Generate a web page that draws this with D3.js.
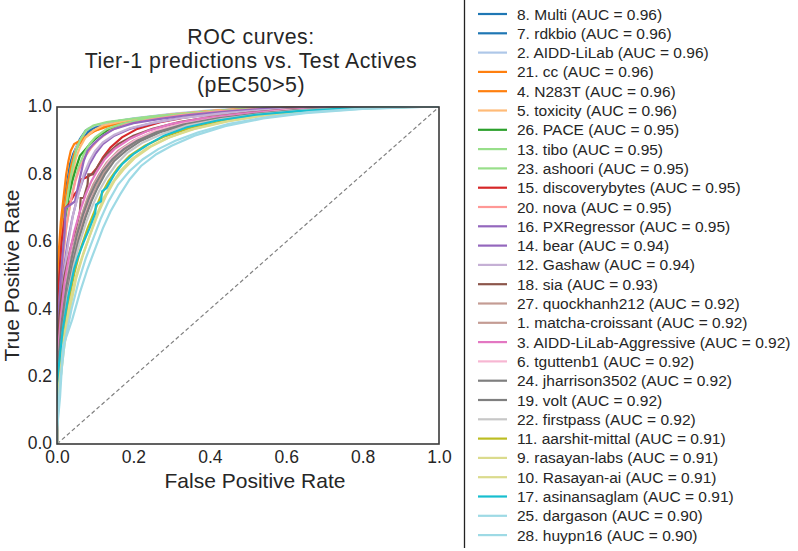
<!DOCTYPE html>
<html>
<head>
<meta charset="utf-8">
<script src="https://cdn.jsdelivr.net/npm/d3@7"></script>
<style>
  body { margin: 0; background: #fff; }
  text { font-family: "Liberation Sans", Arial, Helvetica, sans-serif; fill: #262626; }
</style>
</head>
<body>
<div id="chart"></div>
<script>
// team labels, in legend (and drawing) order
var labels = ["8. Multi", "7. rdkbio", "2. AIDD-LiLab", "21. cc", "4. N283T", "5. toxicity",
    "26. PACE", "13. tibo", "23. ashoori", "15. discoverybytes", "20. nova", "16. PXRegressor",
    "14. bear", "12. Gashaw", "18. sia", "27. quockhanh212", "1. matcha-croissant",
    "3. AIDD-LiLab-Aggressive", "6. tguttenb1", "24. jharrison3502", "19. volt", "22. firstpass",
    "11. aarshit-mittal", "9. rasayan-labs", "10. Rasayan-ai", "17. asinansaglam",
    "25. dargason", "28. huypn16"];

var aucs = [0.96, 0.96, 0.96, 0.96, 0.96, 0.96, 0.95, 0.95, 0.95, 0.95, 0.95, 0.95, 0.94, 0.94,
    0.93, 0.92, 0.92, 0.92, 0.92, 0.92, 0.92, 0.92, 0.91, 0.91, 0.91, 0.91, 0.90, 0.90];

// ROC points [fpr, tpr]
var curves = [
  [[0,0],[0,0.30],[0.004,0.45],[0.008,0.58],[0.012,0.66],[0.02,0.72],[0.028,0.78],[0.034,0.83],[0.042,0.86],[0.05,0.88],[0.06,0.905],[0.075,0.93],[0.1,0.945],[0.14,0.955],[0.2,0.965],[0.3,0.978],[0.4,0.988],[0.5,0.993],[0.6,0.997],[0.7,1],[1,1]],
  [[0,0],[0,0.25],[0.005,0.5],[0.01,0.62],[0.016,0.7],[0.024,0.76],[0.032,0.81],[0.04,0.85],[0.05,0.875],[0.062,0.9],[0.08,0.925],[0.1,0.94],[0.15,0.955],[0.2,0.963],[0.3,0.977],[0.4,0.987],[0.55,0.995],[0.65,1],[1,1]],
  [[0,0],[0,0.2],[0.006,0.45],[0.012,0.6],[0.02,0.7],[0.03,0.78],[0.04,0.84],[0.05,0.88],[0.065,0.91],[0.08,0.935],[0.1,0.945],[0.15,0.957],[0.2,0.966],[0.3,0.98],[0.4,0.99],[0.5,0.996],[0.62,1],[1,1]],
  [[0,0],[0,0.4],[0.004,0.56],[0.01,0.66],[0.018,0.74],[0.024,0.8],[0.03,0.84],[0.036,0.87],[0.045,0.89],[0.06,0.9],[0.08,0.915],[0.1,0.93],[0.14,0.945],[0.2,0.96],[0.3,0.975],[0.4,0.987],[0.5,0.994],[0.6,0.998],[0.7,1],[1,1]],
  [[0,0],[0,0.35],[0.005,0.55],[0.012,0.63],[0.02,0.7],[0.028,0.77],[0.036,0.82],[0.045,0.86],[0.055,0.885],[0.07,0.905],[0.09,0.925],[0.12,0.94],[0.16,0.953],[0.22,0.965],[0.3,0.977],[0.4,0.988],[0.5,0.995],[0.65,1],[1,1]],
  [[0,0],[0,0.3],[0.006,0.5],[0.012,0.6],[0.02,0.68],[0.03,0.75],[0.04,0.8],[0.05,0.85],[0.06,0.88],[0.075,0.91],[0.095,0.93],[0.12,0.945],[0.17,0.957],[0.22,0.967],[0.3,0.978],[0.4,0.988],[0.5,0.995],[0.6,1],[1,1]],
  [[0,0],[0,0.3],[0.006,0.48],[0.012,0.58],[0.02,0.66],[0.03,0.73],[0.04,0.78],[0.05,0.82],[0.06,0.855],[0.075,0.875],[0.09,0.895],[0.11,0.915],[0.14,0.935],[0.18,0.95],[0.25,0.965],[0.35,0.98],[0.45,0.99],[0.55,0.996],[0.7,1],[1,1]],
  [[0,0],[0,0.25],[0.006,0.45],[0.012,0.57],[0.02,0.67],[0.03,0.75],[0.04,0.82],[0.05,0.87],[0.06,0.9],[0.075,0.93],[0.095,0.945],[0.13,0.955],[0.18,0.963],[0.25,0.972],[0.35,0.982],[0.45,0.99],[0.55,0.996],[0.7,1],[1,1]],
  [[0,0],[0,0.2],[0.008,0.42],[0.015,0.55],[0.024,0.64],[0.034,0.71],[0.045,0.77],[0.056,0.82],[0.07,0.86],[0.085,0.89],[0.1,0.91],[0.13,0.935],[0.17,0.95],[0.22,0.963],[0.3,0.975],[0.4,0.986],[0.5,0.993],[0.6,0.998],[0.72,1],[1,1]],
  [[0,0],[0,0.35],[0.006,0.5],[0.012,0.6],[0.02,0.67],[0.022,0.7],[0.03,0.71],[0.045,0.74],[0.06,0.76],[0.062,0.785],[0.075,0.79],[0.09,0.8],[0.105,0.82],[0.12,0.85],[0.14,0.88],[0.17,0.91],[0.21,0.935],[0.27,0.955],[0.35,0.972],[0.45,0.986],[0.55,0.995],[0.65,1],[1,1]],
  [[0,0],[0,0.28],[0.008,0.45],[0.016,0.56],[0.025,0.65],[0.036,0.72],[0.048,0.78],[0.06,0.82],[0.075,0.855],[0.09,0.88],[0.11,0.905],[0.14,0.93],[0.18,0.948],[0.24,0.962],[0.32,0.975],[0.42,0.987],[0.52,0.994],[0.65,1],[1,1]],
  [[0,0],[0,0.3],[0.01,0.5],[0.02,0.63],[0.022,0.7],[0.035,0.71],[0.047,0.72],[0.06,0.79],[0.07,0.84],[0.08,0.87],[0.095,0.89],[0.12,0.915],[0.15,0.935],[0.2,0.952],[0.27,0.965],[0.35,0.977],[0.45,0.987],[0.55,0.995],[0.7,1],[1,1]],
  [[0,0],[0,0.22],[0.01,0.42],[0.018,0.52],[0.028,0.6],[0.04,0.67],[0.055,0.74],[0.07,0.79],[0.085,0.83],[0.1,0.86],[0.12,0.89],[0.15,0.915],[0.19,0.935],[0.25,0.952],[0.32,0.967],[0.42,0.98],[0.52,0.99],[0.62,0.997],[0.75,1],[1,1]],
  [[0,0],[0,0.2],[0.01,0.4],[0.02,0.52],[0.03,0.6],[0.042,0.68],[0.056,0.74],[0.07,0.8],[0.085,0.84],[0.1,0.87],[0.12,0.895],[0.15,0.918],[0.19,0.937],[0.25,0.953],[0.33,0.968],[0.43,0.981],[0.53,0.99],[0.65,0.997],[0.78,1],[1,1]],
  [[0,0],[0,0.3],[0.01,0.42],[0.02,0.5],[0.035,0.58],[0.05,0.64],[0.06,0.69],[0.062,0.73],[0.07,0.73],[0.08,0.77],[0.082,0.8],[0.095,0.8],[0.11,0.83],[0.13,0.86],[0.16,0.89],[0.2,0.915],[0.25,0.935],[0.32,0.955],[0.4,0.97],[0.5,0.983],[0.6,0.992],[0.75,1],[1,1]],
  [[0,0],[0,0.18],[0.012,0.36],[0.024,0.47],[0.036,0.55],[0.05,0.62],[0.065,0.68],[0.08,0.73],[0.095,0.77],[0.11,0.8],[0.13,0.835],[0.16,0.87],[0.2,0.9],[0.25,0.925],[0.32,0.948],[0.4,0.965],[0.5,0.98],[0.6,0.99],[0.72,0.997],[0.85,1],[1,1]],
  [[0,0],[0,0.15],[0.014,0.34],[0.026,0.45],[0.04,0.54],[0.055,0.61],[0.07,0.67],[0.085,0.72],[0.1,0.76],[0.12,0.8],[0.14,0.835],[0.17,0.87],[0.21,0.9],[0.26,0.925],[0.33,0.948],[0.42,0.966],[0.52,0.98],[0.62,0.99],[0.75,0.997],[0.88,1],[1,1]],
  [[0,0],[0,0.22],[0.01,0.38],[0.02,0.48],[0.032,0.56],[0.045,0.63],[0.06,0.69],[0.075,0.74],[0.09,0.78],[0.105,0.81],[0.125,0.845],[0.15,0.875],[0.19,0.905],[0.24,0.93],[0.3,0.95],[0.38,0.966],[0.48,0.98],[0.58,0.99],[0.7,0.997],[0.83,1],[1,1]],
  [[0,0],[0,0.2],[0.012,0.36],[0.024,0.46],[0.036,0.54],[0.05,0.61],[0.066,0.67],[0.082,0.72],[0.1,0.77],[0.118,0.81],[0.14,0.845],[0.17,0.875],[0.21,0.905],[0.26,0.93],[0.33,0.95],[0.42,0.967],[0.52,0.98],[0.6,0.99],[0.7,0.993],[0.8,1],[1,1]],
  [[0,0],[0,0.2],[0.012,0.36],[0.025,0.47],[0.038,0.55],[0.052,0.62],[0.068,0.68],[0.084,0.73],[0.1,0.77],[0.12,0.81],[0.145,0.845],[0.175,0.875],[0.21,0.9],[0.26,0.925],[0.33,0.948],[0.42,0.966],[0.52,0.98],[0.62,0.99],[0.75,0.997],[0.88,1],[1,1]],
  [[0,0],[0,0.16],[0.014,0.33],[0.028,0.45],[0.042,0.54],[0.058,0.61],[0.074,0.67],[0.09,0.72],[0.106,0.76],[0.125,0.8],[0.15,0.84],[0.18,0.87],[0.22,0.9],[0.27,0.925],[0.34,0.947],[0.43,0.965],[0.53,0.98],[0.63,0.99],[0.76,0.997],[0.9,1],[1,1]],
  [[0,0],[0,0.15],[0.014,0.32],[0.028,0.44],[0.044,0.53],[0.06,0.6],[0.077,0.66],[0.094,0.71],[0.11,0.75],[0.13,0.79],[0.155,0.83],[0.185,0.865],[0.225,0.895],[0.275,0.92],[0.34,0.945],[0.43,0.964],[0.53,0.979],[0.64,0.99],[0.77,0.997],[0.9,1],[1,1]],
  [[0,0],[0,0.12],[0.016,0.3],[0.03,0.42],[0.046,0.51],[0.062,0.58],[0.08,0.64],[0.098,0.69],[0.116,0.74],[0.135,0.78],[0.16,0.82],[0.19,0.855],[0.23,0.885],[0.28,0.912],[0.35,0.938],[0.44,0.96],[0.54,0.976],[0.65,0.988],[0.78,0.996],[0.92,1],[1,1]],
  [[0,0],[0,0.1],[0.018,0.28],[0.034,0.4],[0.05,0.49],[0.068,0.56],[0.086,0.62],[0.104,0.68],[0.122,0.73],[0.142,0.77],[0.166,0.81],[0.195,0.845],[0.235,0.878],[0.285,0.906],[0.35,0.933],[0.44,0.957],[0.54,0.975],[0.65,0.988],[0.78,0.996],[0.92,1],[1,1]],
  [[0,0],[0,0.12],[0.016,0.3],[0.032,0.41],[0.05,0.5],[0.07,0.57],[0.09,0.63],[0.11,0.69],[0.13,0.74],[0.15,0.78],[0.175,0.815],[0.205,0.85],[0.245,0.882],[0.295,0.91],[0.36,0.935],[0.45,0.958],[0.55,0.976],[0.66,0.988],[0.8,0.996],[0.93,1],[1,1]],
  [[0,0],[0,0.18],[0.015,0.34],[0.03,0.44],[0.045,0.52],[0.055,0.555],[0.07,0.6],[0.085,0.64],[0.1,0.685],[0.102,0.71],[0.115,0.72],[0.118,0.75],[0.13,0.76],[0.15,0.8],[0.17,0.83],[0.2,0.86],[0.24,0.89],[0.28,0.915],[0.34,0.94],[0.42,0.96],[0.52,0.977],[0.63,0.988],[0.76,0.996],[0.9,1],[1,1]],
  [[0,0],[0,0.05],[0.008,0.18],[0.02,0.3],[0.038,0.4],[0.056,0.48],[0.075,0.55],[0.095,0.61],[0.115,0.67],[0.135,0.72],[0.16,0.77],[0.19,0.81],[0.225,0.845],[0.265,0.875],[0.31,0.9],[0.37,0.925],[0.45,0.95],[0.55,0.97],[0.66,0.985],[0.8,0.995],[0.95,1],[1,1]],
  [[0,0],[0,0.04],[0.008,0.14],[0.016,0.29],[0.04,0.37],[0.06,0.45],[0.08,0.52],[0.1,0.58],[0.12,0.64],[0.14,0.69],[0.165,0.74],[0.19,0.785],[0.22,0.825],[0.26,0.86],[0.3,0.885],[0.36,0.915],[0.44,0.943],[0.54,0.966],[0.65,0.982],[0.8,0.994],[0.96,1],[1,1]]
];

var ticks = [0, 0.2, 0.4, 0.6, 0.8, 1.0];

// line colours (tab20 style)
var colors = ["#1f77b4", "#1f77b4", "#aec7e8", "#ff7f0e", "#ff7f0e", "#ffbb78", "#2ca02c",
    "#98df8a", "#98df8a", "#d62728", "#ff9896", "#9467bd", "#9467bd", "#c5b0d5", "#8c564b",
    "#c49c94", "#c49c94", "#e377c2", "#f7b6d2", "#7f7f7f", "#7f7f7f", "#c7c7c7", "#bcbd22",
    "#dbdb8d", "#dbdb8d", "#17becf", "#9edae5", "#9edae5"];

var width = 798, height = 551;
var plot = {left: 57, right: 439, top: 107, bottom: 444};

var svg = d3.select("#chart").append("svg")
    .attr("width", width)
    .attr("height", height);

var x = d3.scaleLinear().domain([0, 1]).range([plot.left, plot.right]);
var y = d3.scaleLinear().domain([0, 1]).range([plot.bottom, plot.top]);

svg.append("clipPath").attr("id", "clip")
    .append("rect")
    .attr("x", plot.left)
    .attr("y", plot.top - 2)
    .attr("width", plot.right - plot.left)
    .attr("height", plot.bottom - plot.top + 2);

// chance line
svg.append("line")
    .attr("x1", x(0)).attr("y1", y(0))
    .attr("x2", x(1)).attr("y2", y(1))
    .style("stroke", "#808080")
    .style("stroke-width", 1.2)
    .style("stroke-dasharray", "4,2.6");

var line = d3.line()
    .x(function(d){return x(d[0]);})
    .y(function(d){return y(d[1]);});

// ROC curves
svg.append("g")
    .attr("clip-path", "url(#clip)")
    .selectAll("path")
    .data(curves)
    .enter().append("path")
    .attr("d", line)
    .style("fill", "none")
    .style("stroke", function(d, i){return colors[i];})
    .style("stroke-width", 2.2);

// frame
svg.append("rect")
    .attr("x", plot.left)
    .attr("y", plot.top)
    .attr("width", plot.right - plot.left)
    .attr("height", plot.bottom - plot.top)
    .style("fill", "none")
    .style("stroke", "#3a3a3a")
    .style("stroke-width", 1.6);

// axes
var xAxis = svg.append("g")
    .attr("transform", "translate(0," + plot.bottom + ")")
    .call(d3.axisBottom(x).tickValues(ticks).tickFormat(d3.format(".1f")).tickSize(0).tickPadding(7));
var yAxis = svg.append("g")
    .attr("transform", "translate(" + plot.left + ",0)")
    .call(d3.axisLeft(y).tickValues(ticks).tickFormat(d3.format(".1f")).tickSize(0).tickPadding(5));
[xAxis, yAxis].forEach(function(a){
    a.select(".domain").remove();
    a.selectAll("text").style("font-size", "17.5px").style("fill", "#262626")
        .style("font-family", "'Liberation Sans', Arial, sans-serif");
});
yAxis.selectAll("text").attr("dy", "0.28em");

svg.append("text")
    .attr("x", 255)
    .attr("y", 488)
    .attr("text-anchor", "middle")
    .style("font-size", "21px")
    .text("False Positive Rate");

svg.append("text")
    .attr("transform", "translate(19," + ((plot.top + plot.bottom) / 2) + ") rotate(-90)")
    .attr("text-anchor", "middle")
    .style("font-size", "21px")
    .text("True Positive Rate");

// title
var titleLines = ["ROC curves:", "Tier-1 predictions vs. Test Actives", "(pEC50>5)"];
svg.append("g").selectAll("text")
    .data(titleLines)
    .enter().append("text")
    .attr("x", 251)
    .attr("y", function(d, i){return 44 + i * 24;})
    .attr("text-anchor", "middle")
    .style("font-size", "21.3px")
    .style("letter-spacing", "0.5px")
    .text(function(d){return d;});

// legend
svg.append("line")
    .attr("x1", 464.5).attr("x2", 464.5)
    .attr("y1", 0).attr("y2", 548)
    .style("stroke", "#222")
    .style("stroke-width", 1.3);

var legend = svg.append("g").selectAll("g")
    .data(labels)
    .enter().append("g")
    .attr("transform", function(d, i){return "translate(0," + (14 + i * 19.3) + ")";});
legend.append("line")
    .attr("x1", 478).attr("x2", 507)
    .style("stroke", function(d, i){return colors[i];})
    .style("stroke-width", 2.2);
legend.append("text")
    .attr("x", 517)
    .attr("dy", "0.36em")
    .style("font-size", "15.5px")
    .text(function(d, i){return d + " (AUC = " + aucs[i].toFixed(2) + ")";});
</script>
</body>
</html>
